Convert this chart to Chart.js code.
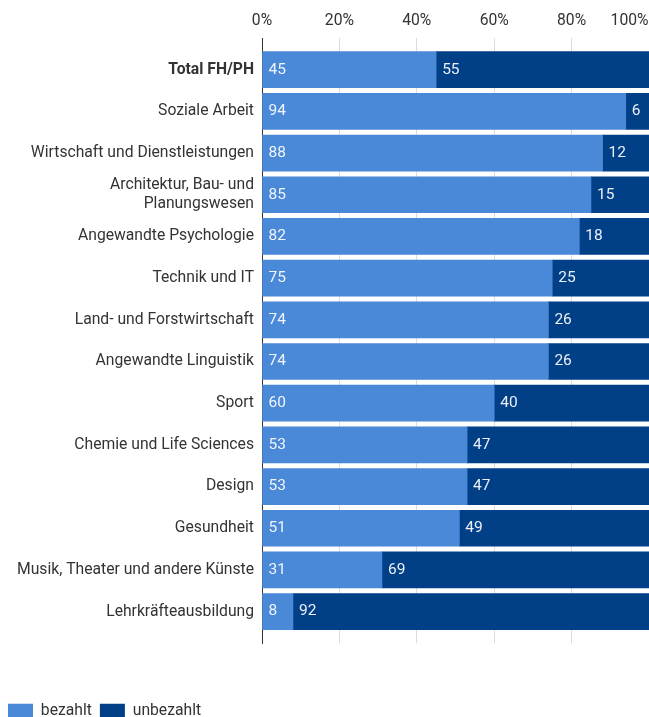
<!DOCTYPE html>
<html>
<head>
<meta charset="utf-8">
<script src="https://cdn.jsdelivr.net/npm/chart.js@4"></script>
<style>
  html, body { margin: 0; padding: 0; background: #fff; }
  #wrap { width: 649px; height: 717px; }
</style>
</head>
<body>
<div id="wrap"><canvas id="chartPraktika"></canvas></div>
<script>
const categories = [
  'Total FH/PH',
  'Soziale Arbeit',
  'Wirtschaft und Dienstleistungen',
  'Architektur, Bau- und\nPlanungswesen',
  'Angewandte Psychologie',
  'Technik und IT',
  'Land- und Forstwirtschaft',
  'Angewandte Linguistik',
  'Sport',
  'Chemie und Life Sciences',
  'Design',
  'Gesundheit',
  'Musik, Theater und andere Künste',
  'Lehrkräfteausbildung'
];
const bezahlt   = [45, 94, 88, 85, 82, 75, 74, 74, 60, 53, 53, 51, 31, 8];
const unbezahlt = [55, 6, 12, 15, 18, 25, 26, 26, 40, 47, 47, 49, 69, 92];
const xTicks = [0, 20, 40, 60, 80, 100];

// Werte direkt in die Balken schreiben
const barLabels = {
  id: 'barLabels',
  afterDatasetsDraw(chart) {
    const ctx = chart.ctx;
    ctx.save();
    ctx.font = '15.5px Roboto';
    ctx.fillStyle = 'rgba(255,255,255,0.92)';
    ctx.textBaseline = 'middle';
    ctx.textAlign = 'left';
    chart.data.datasets.forEach((ds, di) => {
      chart.getDatasetMeta(di).data.forEach((bar, i) => {
        const start = Math.min(bar.x, bar.base);
        ctx.fillText(ds.data[i].x, start + 6, bar.y);
      });
    });
    ctx.restore();
  }
};

const dataPraktika = {
  datasets: [{
    label: 'bezahlt',
    data: bezahlt.map((v, i) => ({x: v, y: i})),
    backgroundColor: '#4a88d8',
    borderWidth: 0,
    barThickness: 36
  }, {
    label: 'unbezahlt',
    data: unbezahlt.map((v, i) => ({x: v, y: i})),
    backgroundColor: '#013f87',
    borderWidth: 0,
    barThickness: 36
  }]
};

const optionsPraktika = {
  indexAxis: 'y',
  responsive: true,
  maintainAspectRatio: false,
  animation: false,
  layout: { padding: { top: 0, left: 0, right: 0, bottom: -12 } },
  scales: {
    x: {
      position: 'top',
      stacked: true,
      min: 0,
      max: 100,
      afterBuildTicks: axis => { axis.ticks = xTicks.map(v => ({value: v})); },
      afterFit: scale => { scale.height = 38; scale.paddingRight = 0; scale.paddingLeft = 0; },
      ticks: {
        padding: 8,
        autoSkip: false,
        color: '#333',
        font: { family: 'Roboto', size: 15.7 },
        maxRotation: 0,
        callback: v => v === 100 ? '100%          ' : v + '%'
      },
      grid: { color: '#dcdcdc', drawTicks: false },
      border: { display: false }
    },
    y: {
      type: 'linear',
      stacked: true,
      reverse: true,
      offset: false,
      min: -0.76,
      max: 13.76,
      afterBuildTicks: axis => {
        axis.ticks = categories.map((c, i) => ({value: i}));
        axis.min = -0.76;
        axis.max = 13.76;
      },
      afterFit: scale => { scale.width = 262; },
      ticks: {
        padding: 8,
        autoSkip: false,
        color: '#333',
        font: ctx => ({
          family: 'Roboto',
          size: 15.7,
          weight: ctx.tick && ctx.tick.value === 0 ? 'bold' : 'normal'
        }),
        callback: v => categories[v] ? categories[v].split('\n') : ''
      },
      grid: { display: false, drawTicks: false, offset: false },
      border: { display: true, color: '#333', width: 1 }
    }
  },
  plugins: {
    legend: {
      position: 'bottom',
      align: 'start',
      title: { display: true, text: ' ', padding: { top: 0, bottom: 37.6 } },
      labels: {
        boxWidth: 25,
        boxHeight: 15,
        padding: 8,
        color: '#333',
        font: { family: 'Roboto', size: 15.7 }
      }
    },
    tooltip: { enabled: false }
  }
};

new Chart(document.getElementById('chartPraktika'), {
  type: 'bar',
  data: dataPraktika,
  options: optionsPraktika,
  plugins: [barLabels]
});
</script>
</body>
</html>
